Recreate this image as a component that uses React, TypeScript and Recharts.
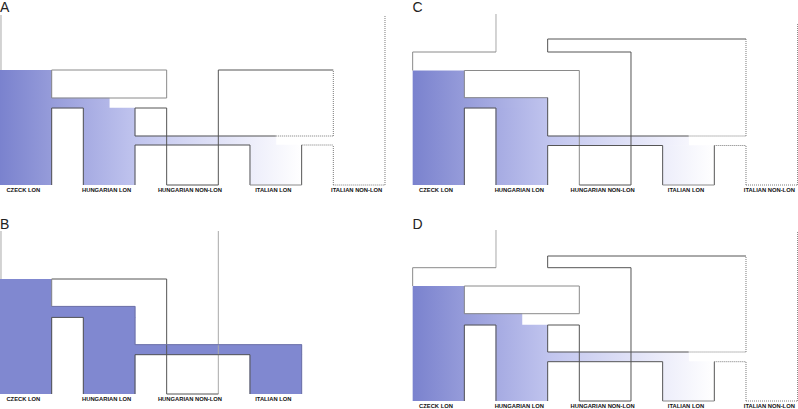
import React from "react";
import { ComposedChart, XAxis, YAxis, ReferenceArea, ReferenceLine } from "recharts";

// ---------- data ----------
const populations = ["CZECK LON", "HUNGARIAN LON", "HUNGARIAN NON-LON", "ITALIAN LON", "ITALIAN NON-LON"];
const popsFive = [0, 1, 2, 3, 4];
const popsFour = [0, 1, 2, 3];

// heights above the present (column bottoms) for each panel
const levelsA = { root: 170, top: 115, b1t: 87, b1b: 77, b2t: 49, b2b: 40 };
const levelsB = { root: 163, top: 115, b1t: 87.6, b1b: 76.6, b2t: 49.3, b2b: 39.3 };
const levelsC = { root: 171, rootR: 161, bb: 146, join: 133, top: 114.5, b1t: 87.3, b1b: 77, b2t: 49, b2b: 39.5 };
const levelsD = { root: 171, rootR: 170, bb: 145, join: 133.3, top: 115, b1t: 87.3, b1b: 76, b2t: 49, b2b: 39.3 };

// colour ramp of the LON ancestry (position along the populations -> rgb)
const rampPos = [0, 0.62, 1.0, 1.62, 2.4, 3.0, 3.62];
const rampRGB = [
  [122, 130, 206],
  [150, 156, 218],
  [165, 170, 226],
  [192, 196, 238],
  [222, 224, 246],
  [236, 237, 250],
  [255, 255, 255],
];
const solidFill = "#8088d0";

// ---------- geometry helpers ----------
const W = 0.62;
const cl = (k: number) => k;
const cr = (k: number) => k + W;
const cm = (k: number) => k + W / 2;

type Seg = [number, number, number, number, string];
type Fill = [number, number, number, number];

const shade = (u: number) => {
  if (u <= rampPos[0]) return `rgb(${rampRGB[0].join(",")})`;
  for (let i = 1; i < rampPos.length; i++) {
    if (u <= rampPos[i]) {
      const t = (u - rampPos[i - 1]) / (rampPos[i] - rampPos[i - 1]);
      const c = rampRGB[i - 1].map((v, j) => Math.round(v + (rampRGB[i][j] - v) * t));
      return `rgb(${c.join(",")})`;
    }
  }
  return "rgb(255,255,255)";
};

const fillsNotched = (L: any): Fill[] => [
  [cl(0), cr(0), 0, L.top],
  [cr(0), cm(1), L.b1b, L.b1t],
  [cl(1), cr(1), 0, L.b1b],
  [cr(1), cm(3), L.b2b, L.b2t],
  [cl(3), cr(3), 0, L.b2b],
];
const fillsOpen = (L: any): Fill[] => [
  [cl(0), cr(0), 0, L.top],
  [cr(0), cr(1), L.b1b, L.b1t],
  [cl(1), cr(1), 0, L.b1b],
  [cr(1), cm(3), L.b2b, L.b2t],
  [cl(3), cr(3), 0, L.b2b],
];
const fillsB = (L: any): Fill[] => [
  [cl(0), cr(0), 0, L.top],
  [cr(0), cr(1), L.b1b, L.b1t],
  [cl(1), cr(1), 0, L.b1b],
  [cr(1), cr(3), L.b2b, L.b2t],
  [cl(3), cr(3), 0, L.b2b],
];

const lowerCommon = (L: any): Seg[] => [
  [cr(0), 0, cr(0), L.b1b, "d"],
  [cr(0), L.b1b, cl(1), L.b1b, "d"],
  [cl(1), 0, cl(1), L.b1b, "d"],
  [cr(1), 0, cr(1), L.b2b, "d"],
  [cr(1), L.b2t, cm(3), L.b2t, "d"],
  [cr(1), L.b2b, cl(3), L.b2b, "d"],
  [cl(2), 0, cr(2), 0, "d"],
  [cl(3), 0, cl(3), L.b2b, "d"],
  [cr(3), 0, cr(3), L.b2b, "d"],
  [cl(3), 0, cr(3), 0, "m"],
  [cm(3), L.b2t, cl(4), L.b2t, "t"],
  [cr(3), L.b2b, cl(4), L.b2b, "t"],
  [cl(4), 0, cl(4), L.b2b, "t"],
  [cl(4), 0, cr(4), 0, "t"],
];

const notchedBoxes = (L: any): Seg[] => [
  [cr(0), L.top, cl(2), L.top, "m"],
  [cr(0), L.b1t, cl(2), L.b1t, "m"],
  [cr(0), L.b1t, cr(0), L.top, "m"],
  [cl(2), L.b1t, cl(2), L.top, "m"],
  [cr(1), L.b1b, cl(2), L.b1b, "d"],
  [cr(1), L.b2t, cr(1), L.b1b, "d"],
  [cl(2), 0, cl(2), L.b1b, "d"],
];

const upperJoin = (L: any): Seg[] => [
  [cl(1), L.join, cl(1), L.root, "l"],
  [cl(0), L.join, cl(1), L.join, "m"],
  [cl(0), L.top, cl(0), L.join, "m"],
  [cr(1), L.join, cr(1), L.bb, "d"],
  [cr(1), L.bb, cl(4), L.bb, "d"],
  [cr(1), L.join, cr(2), L.join, "d"],
  [cr(2), 0, cr(2), L.join, "d"],
  [cl(4), L.b2t, cl(4), L.bb, "t"],
  [cr(4), 0, cr(4), L.rootR, "t"],
];

const segsA: Seg[] = [
  [0.012, levelsA.top, 0.012, levelsA.root, "l"],
  ...notchedBoxes(levelsA),
  ...lowerCommon(levelsA),
  [cr(2), 0, cr(2), levelsA.top, "d"],
  [cr(2), levelsA.top, cl(4), levelsA.top, "d"],
  [cl(4), levelsA.b2t, cl(4), levelsA.top, "t"],
  [cr(4), 0, cr(4), levelsA.root, "t"],
];

const segsC: Seg[] = [
  ...upperJoin(levelsC),
  [cr(0), levelsC.top, cl(2), levelsC.top, "m"],
  [cr(0), levelsC.b1t, cr(0), levelsC.top, "m"],
  [cl(2), 0, cl(2), levelsC.top, "m"],
  [cr(0), levelsC.b1t, cr(1), levelsC.b1t, "m"],
  [cr(1), levelsC.b2t, cr(1), levelsC.b1t, "d"],
  ...lowerCommon(levelsC),
];

const segsD: Seg[] = [...upperJoin(levelsD), ...notchedBoxes(levelsD), ...lowerCommon(levelsD)];

const L = levelsB;
const segsB: Seg[] = [
  [0.012, L.top, 0.012, L.root, "l"],
  [cr(0), L.top, cl(2), L.top, "d"],
  [cr(0), L.b1t, cr(0), L.top, "m"],
  [cl(2), 0, cl(2), L.top, "d"],
  [cr(2), 0, cr(2), L.root, "l"],
  [cl(2), 0, cr(2), 0, "d"],
  [cr(0), 0, cr(0), L.b1b, "d"],
  [cr(0), L.b1b, cl(1), L.b1b, "d"],
  [cl(1), 0, cl(1), L.b1b, "d"],
  [cr(0), L.b1t, cr(1), L.b1t, "e"],
  [cr(1), L.b2t, cr(1), L.b1t, "e"],
  [cr(1), 0, cr(1), L.b2b, "d"],
  [cr(1), L.b2b, cl(3), L.b2b, "d"],
  [cr(1), L.b2t, cr(3), L.b2t, "e"],
  [cr(3), 0, cr(3), L.b2t, "e"],
  [cl(3), 0, cl(3), L.b2b, "d"],
];

// ---------- rendering ----------
const strokeFor: Record<string, { stroke: string; dash?: string }> = {
  d: { stroke: "#555555" },
  m: { stroke: "#8a8a8a" },
  l: { stroke: "#a8a8a8" },
  e: { stroke: "#6f74a8" },
  t: { stroke: "#7a7a7a", dash: "1 1" },
};

const PX_PER_POP = 83.33;
const OVX = 0.005; // tiny overlap between adjacent fills to avoid seams
const OVY = 0.35;

function Panel(props: {
  id: string;
  left: number;
  top: number;
  xStart: number;
  letter: string;
  letterLeft: number;
  letterTop: number;
  pops: number[];
  fills: Fill[];
  segs: Seg[];
  gradient: boolean;
}) {
  const { id, left, top, xStart, letter, letterLeft, letterTop, pops, fills, segs, gradient } = props;
  const xEnd = xStart + 400 / PX_PER_POP;
  const data = pops.map((k) => ({ x: cm(k) }));
  return (
    <div style={{ position: "absolute", left, top, width: 400, height: 205 }}>
      <ComposedChart width={400} height={205} data={data} margin={{ top: 0, right: 0, bottom: 0, left: 0 }}>
        <defs>
          {fills.map((f, i) => (
            <linearGradient key={i} id={`${id}g${i}`} x1="0" x2="1" y1="0" y2="0">
              <stop offset="0" stopColor={gradient ? shade(f[0]) : solidFill} />
              <stop offset="1" stopColor={gradient ? shade(f[1]) : solidFill} />
            </linearGradient>
          ))}
        </defs>
        <XAxis
          type="number"
          dataKey="x"
          domain={[xStart, xEnd]}
          allowDataOverflow
          ticks={pops.map((k) => cm(k))}
          interval={0}
          tickFormatter={(v: number) => populations[Math.round(v - W / 2)]}
          tickLine={false}
          axisLine={false}
          tickSize={0}
          tickMargin={3}
          height={20}
          tick={{ fontSize: 5.8, fontWeight: 700, fill: "#111", fontFamily: "'Liberation Sans', Arial, sans-serif", dx: -2.5 }}
        />
        <YAxis type="number" domain={[0, 185]} allowDataOverflow hide />
        {fills.map((f, i) => (
          <ReferenceArea
            key={`f${i}`}
            x1={f[0] - (i > 0 ? OVX : 0)}
            x2={f[1] + OVX}
            y1={Math.max(0, f[2] - (f[2] > 0 ? OVY : 0))}
            y2={f[3] + (i > 0 ? OVY : 0)}
            fill={`url(#${id}g${i})`}
            fillOpacity={1}
            stroke="none"
            ifOverflow="visible"
          />
        ))}
        {segs.map((s, i) => (
          <ReferenceLine
            key={`s${i}`}
            segment={[
              { x: s[0], y: s[1] },
              { x: s[2], y: s[3] },
            ]}
            stroke={strokeFor[s[4]].stroke}
            strokeDasharray={strokeFor[s[4]].dash}
            strokeWidth={1}
            ifOverflow="visible"
          />
        ))}
      </ComposedChart>
      <div
        style={{
          position: "absolute",
          left: letterLeft,
          top: letterTop,
          fontFamily: "'Liberation Sans', Arial, sans-serif",
          fontSize: 14,
          lineHeight: "14px",
          color: "#222",
        }}
      >
        {letter}
      </div>
    </div>
  );
}

export default function App() {
  return (
    <div
      style={{
        position: "absolute",
        left: 0,
        top: 0,
        width: 798,
        height: 409,
        overflow: "hidden",
        background: "#fff",
      }}
    >
      <Panel id="pa" left={0} top={0} xStart={0} letter="A" letterLeft={0} letterTop={0} pops={popsFive} fills={fillsNotched(levelsA)} segs={segsA} gradient />
      <Panel id="pb" left={0} top={209.3} xStart={0} letter="B" letterLeft={0} letterTop={7.5} pops={popsFour} fills={fillsB(levelsB)} segs={segsB} gradient={false} />
      <Panel id="pc" left={400} top={0} xStart={-0.152} letter="C" letterLeft={12.5} letterTop={0} pops={popsFive} fills={fillsOpen(levelsC)} segs={segsC} gradient />
      <Panel id="pd" left={400} top={216} xStart={-0.152} letter="D" letterLeft={12.5} letterTop={1} pops={popsFive} fills={fillsNotched(levelsD)} segs={segsD} gradient />
    </div>
  );
}
